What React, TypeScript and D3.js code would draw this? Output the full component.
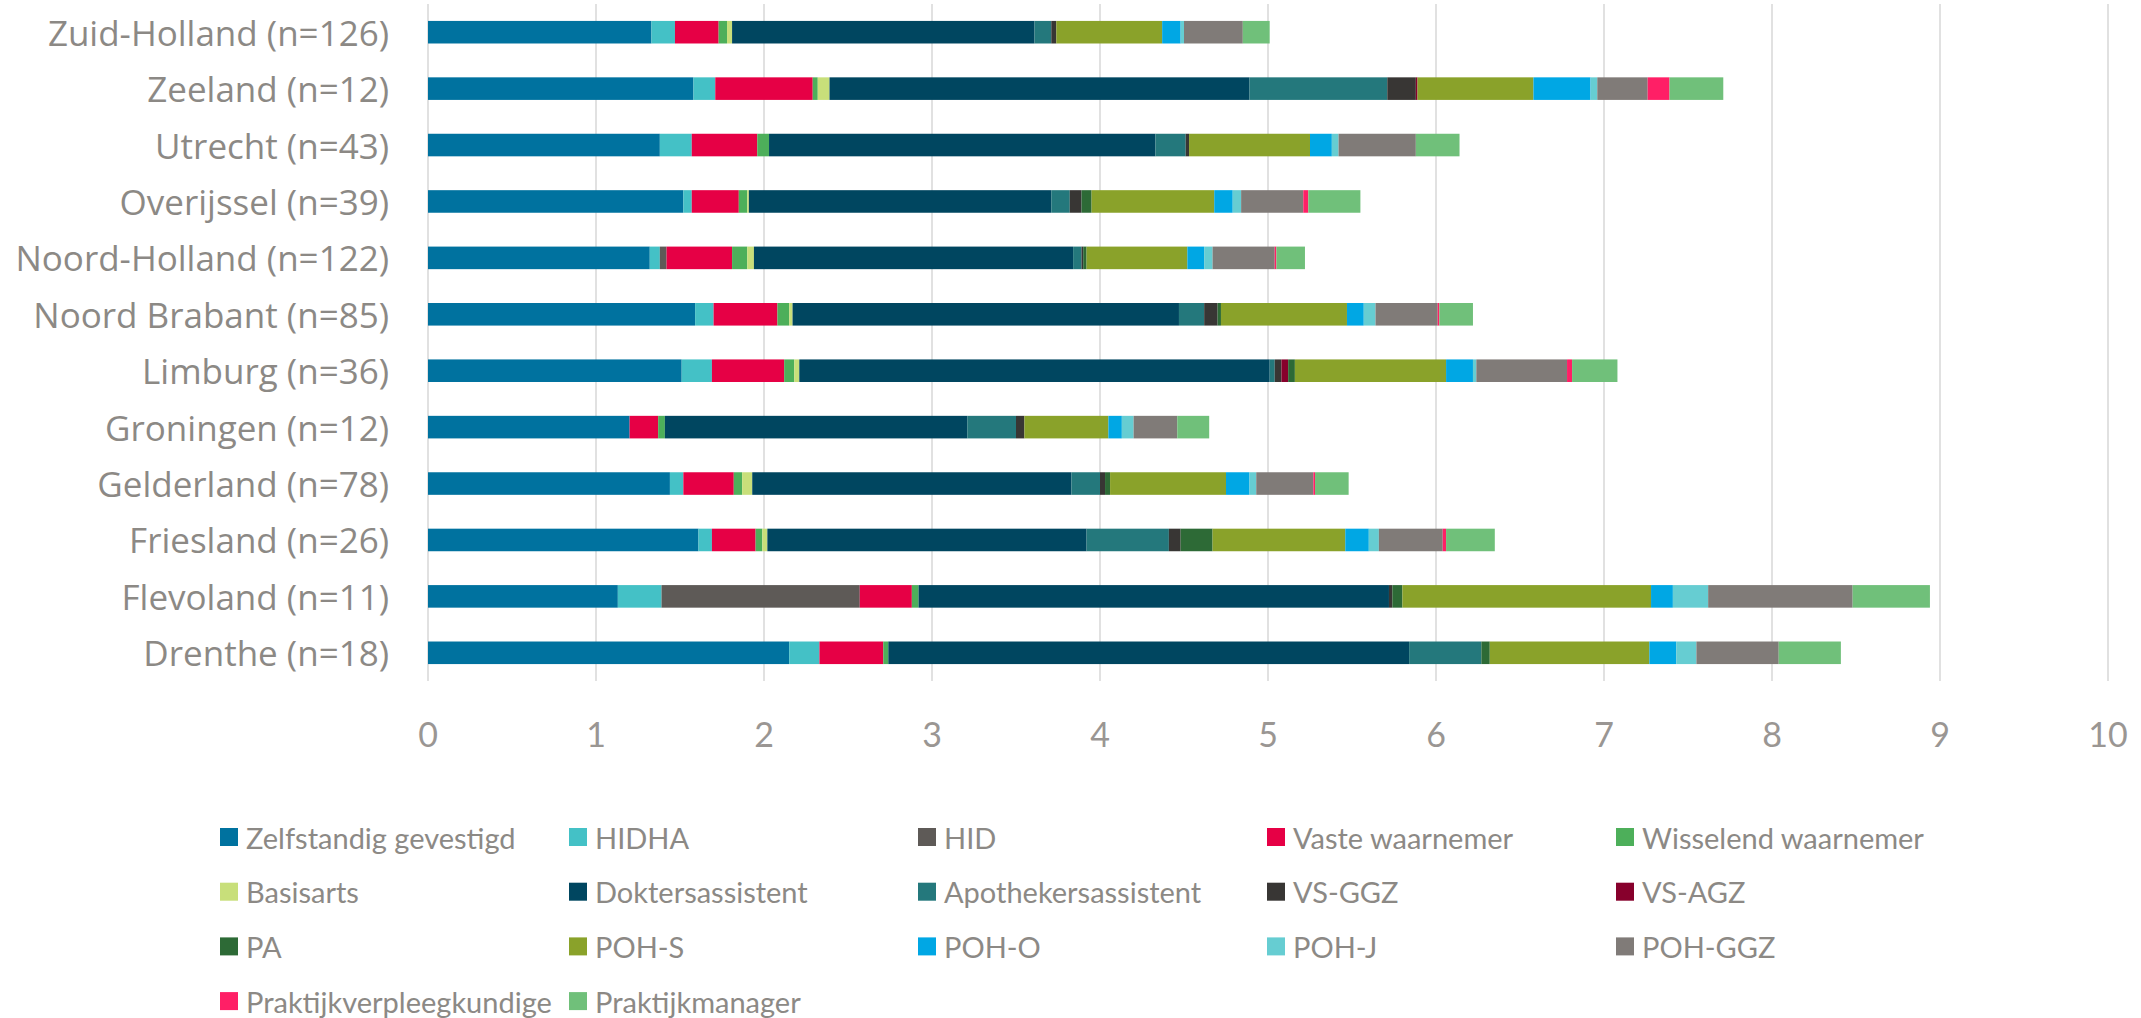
import React from "react";
import * as d3 from "d3";

// provinces top to bottom
const provinces = [
  "Zuid-Holland (n=126)",
  "Zeeland (n=12)",
  "Utrecht (n=43)",
  "Overijssel (n=39)",
  "Noord-Holland (n=122)",
  "Noord Brabant (n=85)",
  "Limburg (n=36)",
  "Groningen (n=12)",
  "Gelderland (n=78)",
  "Friesland (n=26)",
  "Flevoland (n=11)",
  "Drenthe (n=18)",
];

const categories = [
  "Zelfstandig gevestigd",
  "HIDHA",
  "HID",
  "Vaste waarnemer",
  "Wisselend waarnemer",
  "Basisarts",
  "Doktersassistent",
  "Apothekersassistent",
  "VS-GGZ",
  "VS-AGZ",
  "PA",
  "POH-S",
  "POH-O",
  "POH-J",
  "POH-GGZ",
  "Praktijkverpleegkundige",
  "Praktijkmanager",
];

const colors = [
  "#00729f", "#44c1c6", "#5e5a57", "#e60045", "#4daf5a", "#c8df7a",
  "#004660", "#24787c", "#383634", "#87002c", "#2d6a36", "#8aa22a",
  "#00a7e4", "#66cdd2", "#807b78", "#ff1f66", "#70c07a",
];

// one array per category, in province order
const zelfstandig = [1.33, 1.58, 1.38, 1.52, 1.32, 1.59, 1.51, 1.2, 1.44, 1.61, 1.13, 2.15];
const hidha = [0.14, 0.13, 0.19, 0.05, 0.06, 0.11, 0.18, 0, 0.08, 0.08, 0.26, 0.18];
const hid = [0, 0, 0, 0, 0.04, 0, 0, 0, 0, 0, 1.18, 0];
const vaste = [0.26, 0.58, 0.39, 0.28, 0.39, 0.38, 0.43, 0.17, 0.3, 0.26, 0.31, 0.38];
const wisselend = [0.05, 0.03, 0.07, 0.05, 0.09, 0.07, 0.06, 0.04, 0.05, 0.04, 0.04, 0.03];
const basisarts = [0.03, 0.07, 0, 0.01, 0.04, 0.02, 0.03, 0, 0.06, 0.03, 0, 0];
const dokters = [1.8, 2.5, 2.3, 1.8, 1.9, 2.3, 2.8, 1.8, 1.9, 1.9, 2.8, 3.1];
const apotheek = [0.1, 0.82, 0.18, 0.11, 0.05, 0.15, 0.03, 0.29, 0.17, 0.49, 0, 0.43];
const vsggz = [0.03, 0.17, 0.02, 0.07, 0.01, 0.08, 0.04, 0.05, 0.03, 0.07, 0.02, 0];
const vsagz = [0, 0.01, 0, 0, 0, 0, 0.04, 0, 0, 0, 0, 0];
const pa = [0, 0, 0, 0.06, 0.02, 0.02, 0.04, 0, 0.03, 0.19, 0.06, 0.05];
const pohS = [0.63, 0.69, 0.72, 0.73, 0.6, 0.75, 0.9, 0.5, 0.69, 0.79, 1.48, 0.95];
const pohO = [0.11, 0.34, 0.13, 0.11, 0.1, 0.1, 0.16, 0.08, 0.14, 0.14, 0.13, 0.16];
const pohJ = [0.02, 0.04, 0.04, 0.05, 0.05, 0.07, 0.02, 0.07, 0.04, 0.06, 0.21, 0.12];
const pohGgz = [0.35, 0.3, 0.46, 0.37, 0.37, 0.37, 0.54, 0.26, 0.34, 0.38, 0.86, 0.49];
const verpleeg = [0, 0.13, 0, 0.03, 0.01, 0.01, 0.03, 0, 0.01, 0.02, 0, 0];
const manager = [0.16, 0.32, 0.26, 0.31, 0.17, 0.2, 0.27, 0.19, 0.2, 0.29, 0.46, 0.37];

const seriesValues = [
  zelfstandig, hidha, hid, vaste, wisselend, basisarts, dokters, apotheek,
  vsggz, vsagz, pa, pohS, pohO, pohJ, pohGgz, verpleeg, manager,
];

const xTicks = [0, 1, 2, 3, 4, 5, 6, 7, 8, 9, 10];

const W = 2141;
const H = 1018;
const textGray = "#8c8985";

export default function App() {
  const rows = provinces.map((p, i) => {
    const row: Record<string, any> = { province: p };
    categories.forEach((c, j) => (row[c] = seriesValues[j][i]));
    return row;
  });

  const stacked = d3.stack().keys(categories)(rows as any);

  const x = d3.scaleLinear().domain([0, 10]).range([428, 2108]);
  const y = d3
    .scaleBand()
    .domain(provinces)
    .range([4, 681])
    .paddingInner(0.6)
    .paddingOuter(0.3);

  const color = d3.scaleOrdinal<string, string>().domain(categories).range(colors);

  return (
    <svg width={W} height={H} style={{ position: "absolute", left: 0, top: 0, background: "#fff" }}>
      {/* gridlines */}
      {xTicks.map((t) => (
        <line key={t} x1={x(t)} x2={x(t)} y1={4} y2={681} stroke="#e1e1e1" strokeWidth={2} />
      ))}

      {/* bars */}
      {stacked.map((layer) => (
        <g key={layer.key} fill={color(layer.key)}>
          {layer.map((d: any, i: number) =>
            d[1] - d[0] > 0 ? (
              <rect
                key={i}
                x={x(d[0])}
                y={y(provinces[i])}
                width={x(d[1]) - x(d[0])}
                height={y.bandwidth()}
              />
            ) : null
          )}
        </g>
      ))}

      {/* category labels */}
      {provinces.map((p) => (
        <text
          key={p}
          x={389}
          y={(y(p) as number) + y.bandwidth() / 2}
          textAnchor="end"
          dominantBaseline="central"
          fontFamily="'Open Sans', sans-serif"
          fontSize={35}
          fill={textGray}
        >
          {p}
        </text>
      ))}

      {/* x tick labels */}
      {xTicks.map((t) => (
        <text
          key={t}
          x={x(t)}
          y={733}
          textAnchor="middle"
          dominantBaseline="central"
          fontFamily="Lato, sans-serif"
          fontSize={34}
          fill="#9a9693"
        >
          {t}
        </text>
      ))}

      {/* legend */}
      {categories.map((c, i) => {
        const col = i % 5;
        const row = Math.floor(i / 5);
        const lx = 220 + col * 349;
        const ly = 837 + row * 54.7;
        return (
          <g key={c}>
            <rect x={lx} y={ly - 9} width={18} height={18} fill={color(c)} />
            <text
              x={lx + 26}
              y={ly}
              dominantBaseline="central"
              fontFamily="Lato, sans-serif"
              fontSize={29}
              fill={textGray}
            >
              {c}
            </text>
          </g>
        );
      })}
    </svg>
  );
}
